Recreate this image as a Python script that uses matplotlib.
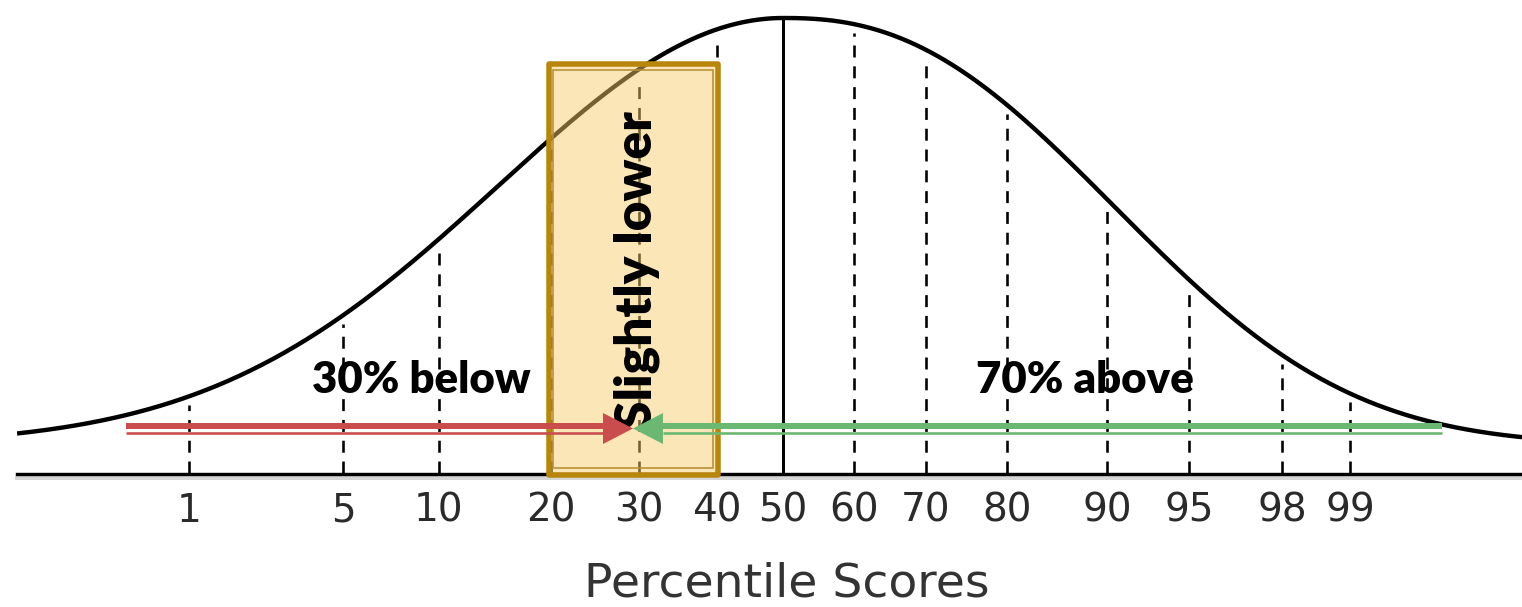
import numpy as np
import matplotlib
matplotlib.use("Agg")
import matplotlib.pyplot as plt
from matplotlib.patches import Rectangle, Polygon

# ---------------- data ----------------
percentiles = [1, 5, 10, 20, 30, 40, 50, 60, 70, 80, 90, 95, 98, 99]
tick_x = [189, 343, 439, 551, 639, 717, 783, 854, 926, 1007, 1107, 1189, 1282, 1350]
tick_labels = [str(p) for p in percentiles]
median_pct = 50

# bell-curve shape parameters
curve_center = 783
curve_floor = 445
curve_peak = 18
curve_left_width, curve_left_power = 403, 2.0
curve_right_width, curve_right_power = 415, 2.4

below_label = "30% below"
above_label = "70% above"
band_label = "Slightly lower"
band_range = (548.5, 718)
split_x = 633
xlabel = "Percentile Scores"

# ---------------- figure ----------------
W, H = 1522, 607
DPI = 100
PX = 72 / DPI  # points per pixel
axis_y = 473.5
x0 = 17

fig = plt.figure(figsize=(W / DPI, H / DPI), dpi=DPI)
ax = fig.add_axes([x0 / W, (H - axis_y) / H, (W - x0) / W, axis_y / H])
ax.set_xlim(x0, W)
ax.set_ylim(axis_y, 0)
for s in ("left", "top", "right"):
    ax.spines[s].set_visible(False)
ax.spines["bottom"].set_linewidth(3.4 * PX)
ax.spines["bottom"].set_color("black")
ax.spines["bottom"].set_zorder(3)
ax.set_yticks([])


def curve(x):
    x = np.asarray(x, dtype=float)
    d = x - curve_center
    shape = np.where(
        d < 0,
        np.exp(-(np.abs(d) / curve_left_width) ** curve_left_power),
        np.exp(-(np.abs(d) / curve_right_width) ** curve_right_power),
    )
    return curve_floor - (curve_floor - curve_peak) * shape


xs = np.linspace(x0, W, 800)
ax.plot(xs, curve(xs), color="black", lw=4.4 * PX, zorder=2, solid_capstyle="butt")

# light shadow under axis line
ax.plot([x0, W], [axis_y + 5, axis_y + 5], color="#d6d6d6", lw=4 * PX,
        clip_on=False, zorder=1)

# percentile lines
for p, x in zip(percentiles, tick_x):
    top = curve(x)
    if p == median_pct:
        ax.plot([x, x], [axis_y, top + 2], color="black", lw=3 * PX, zorder=2)
    else:
        ax.plot([x, x], [axis_y, top + 9], color="black", lw=2.6 * PX,
                linestyle=(0, (4.6, 3.4)), zorder=2)

ax.set_xticks(tick_x)
ax.set_xticklabels(tick_labels, fontsize=28, color="#2a2a2a", family="DejaVu Sans")
ax.tick_params(axis="x", length=0, pad=13)
ax.set_xlabel(xlabel, fontsize=34, color="#333333", family="DejaVu Sans")
ax.xaxis.set_label_coords((787 - x0) / (W - x0), -0.185)

# highlighted band
bx0, bx1 = band_range
band = Rectangle((bx0, 64), bx1 - bx0, 475 - 64, facecolor="#F8CB6A", alpha=0.48,
                 edgecolor="none", zorder=4, clip_on=False)
ax.add_patch(band)
ax.add_patch(Rectangle((bx0, 64), bx1 - bx0, 475 - 64, facecolor="none",
                       edgecolor="#B8860B", lw=5.5 * PX, zorder=5, clip_on=False,
                       joinstyle="round"))
ax.add_patch(Rectangle((bx0 + 4.5, 70), bx1 - bx0 - 9.5, 468.5 - 70, facecolor="none",
                       edgecolor="#B58F35", lw=1.6 * PX, zorder=5, clip_on=False))

ax.text((bx0 + bx1) / 2 + 3, 270, band_label, rotation=90, ha="center", va="center",
        fontsize=37, fontweight="heavy", family="Lato", color="black", zorder=6)

# arrows
red = "#C94D4D"
green = "#6BB872"
ay = 428.5
head_len, head_half = 30, 15.5
start_red, start_green = 126, 1442
for start, col, sgn in ((start_red, red, 1), (start_green, green, -1)):
    base = split_x - sgn * head_len
    ax.plot([start, base], [ay - 2, ay - 2], color=col, lw=6 * PX,
            solid_capstyle="butt", zorder=7)
    ax.plot([start, base], [ay + 4.5, ay + 4.5], color=col, lw=2.6 * PX,
            solid_capstyle="butt", zorder=7)
    ax.add_patch(Polygon([(base, ay - head_half), (split_x, ay), (base, ay + head_half)],
                         closed=True, facecolor=col, edgecolor="none", zorder=7))

ax.text(421, 393, below_label, ha="center", va="baseline", fontsize=31.5,
        fontweight="heavy", family="Lato", color="black", zorder=6)
ax.text(1085, 393, above_label, ha="center", va="baseline", fontsize=31.5,
        fontweight="heavy", family="Lato", color="black", zorder=6)

fig.savefig("out.png", dpi=DPI)
